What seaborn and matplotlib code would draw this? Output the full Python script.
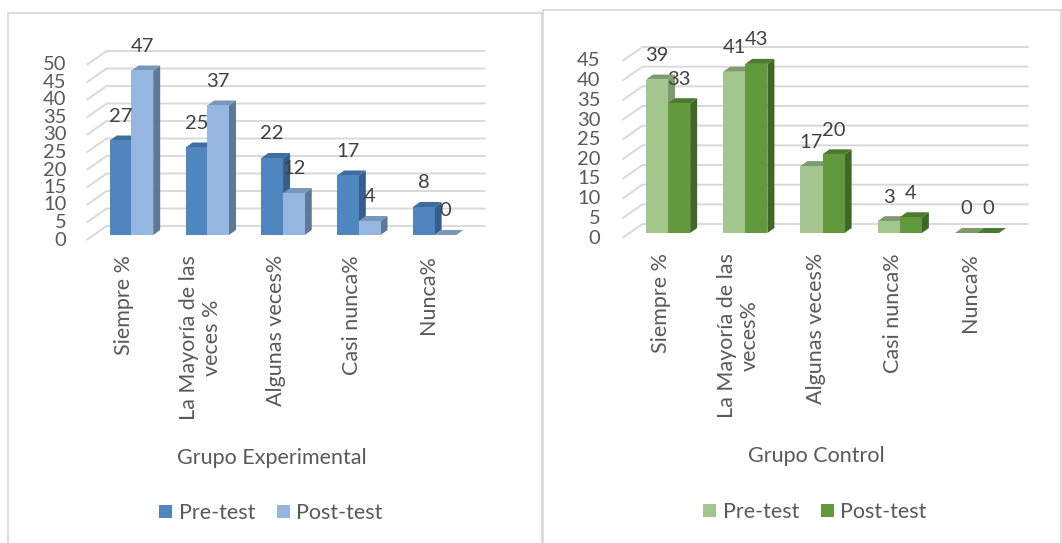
import numpy as np
import pandas as pd
import matplotlib
matplotlib.use("Agg")
import matplotlib.pyplot as plt
import seaborn as sns
from matplotlib.patches import Polygon, Rectangle
from matplotlib.transforms import ScaledTranslation

# ---------------- data ----------------
series = ["Pre-test", "Post-test"]
categories_exp = ["Siempre %", "La Mayoría de las\nveces %", "Algunas veces%", "Casi nunca%", "Nunca%"]
categories_ctl = ["Siempre %", "La Mayoría de las\nveces%", "Algunas veces%", "Casi nunca%", "Nunca%"]
exp_pre = [27, 25, 22, 17, 8]
exp_post = [47, 37, 12, 4, 0]
ctl_pre = [39, 41, 17, 3, 0]
ctl_post = [33, 43, 20, 4, 0]
exp_ticks = [0, 5, 10, 15, 20, 25, 30, 35, 40, 45, 50]
ctl_ticks = [0, 5, 10, 15, 20, 25, 30, 35, 40, 45]
title_exp = "Grupo Experimental"
title_ctl = "Grupo Control"

# ---------------- style ----------------
sns.set_style("white")
plt.rcParams["font.family"] = ["Lato", "DejaVu Sans"]

W, H = 1062, 543
fig = plt.figure(figsize=(W / 100, H / 100), dpi=100)

NUM_SIZE = 14.5
CAT_SIZE = 15.5
TXT = "#595959"
NUMC = "#404040"
GRID = "#D9D9D9"


def px_axes(left, right, top, bottom):
    return fig.add_axes([left / W, 1 - bottom / H, (right - left) / W, (bottom - top) / H])


def draw_panel(ax, cats, pre, post, ticks, front, side, topc, ypx_bottom, ypx_top,
               xl, xr, tick_gap):
    n = len(cats)
    df = pd.DataFrame({
        "Categoría": cats * 2,
        "Valor": pre + post,
        "Serie": [series[0]] * n + [series[1]] * n,
    })
    sns.barplot(data=df, x="Categoría", y="Valor", hue="Serie", order=cats,
                hue_order=series, palette=front, width=0.573, saturation=1,
                errorbar=None, legend=False, linewidth=0, ax=ax)
    ymax = ticks[-1]
    ax.set_xlim(-0.5, n - 0.5)
    ax.set_ylim(0, ymax)
    sx = (xr - xl) / n
    sy = (ypx_bottom - ypx_top) / ymax
    ddx, ddy = 7 / sx, 5 / sy

    # back wall grid with diagonal floor lines
    for t in ticks:
        ax.plot([-0.5 - 7 / sx, -0.5 + 13 / sx, n - 0.5 + 13 / sx],
                [t - 5 / sy, t + 9 / sy, t + 9 / sy],
                color=GRID, lw=1.4, clip_on=False, zorder=1, solid_capstyle="butt")
        ax.text(-0.5 - 7 / sx - tick_gap / sx, t - 5 / sy, str(t), ha="right", va="center",
                fontsize=NUM_SIZE, color=TXT, clip_on=False)

    # 3D faces of the bars
    bars = list(ax.patches)
    for i, p in enumerate(bars):
        k = 0 if i < n else 1
        x0, w, h = p.get_x(), p.get_width(), p.get_height()
        base_z = 2 + 2 * k
        side_poly = Polygon([(x0 + w, 0), (x0 + w + ddx, ddy), (x0 + w + ddx, h + ddy), (x0 + w, h)],
                            closed=True, facecolor=side[k], edgecolor="none", zorder=base_z,
                            clip_on=False)
        top_poly = Polygon([(x0, h), (x0 + w, h), (x0 + w + ddx, h + ddy), (x0 + ddx, h + ddy)],
                           closed=True, facecolor=topc[k], edgecolor="none", zorder=base_z,
                           clip_on=False)
        ax.add_patch(side_poly)
        ax.add_patch(top_poly)
        p.set_zorder(base_z + 1)
        p.set_clip_on(False)
        val = (pre + post)[i]
        ax.text(x0 + w / 2, h + 24 / sy, str(val), ha="center", va="center",
                fontsize=NUM_SIZE, color=NUMC, zorder=10, clip_on=False)

    for s in ax.spines.values():
        s.set_visible(False)
    ax.set_yticks([])
    ax.set_xlabel("")
    ax.set_ylabel("")
    ax.set_xticks(range(n))
    ax.set_xticklabels(cats, rotation=90, fontsize=CAT_SIZE, color=TXT, multialignment="center")
    ax.tick_params(axis="x", length=0, pad=14.4)
    for lbl in ax.get_xticklabels():
        lbl.set_transform(lbl.get_transform() + ScaledTranslation(-7 / 100, 0, fig.dpi_scale_trans))
    ax.patch.set_visible(False)


# ---------------- panels ----------------
blue_front = ["#4F86BF", "#95B6DE"]
blue_side = ["#365E8C", "#5F7898"]
blue_top = ["#3D6EA0", "#7A96BC"]
green_front = ["#A3C68F", "#62993D"]
green_side = ["#7D9B6D", "#3F6826"]
green_top = ["#7D9B6D", "#4C7A30"]

ax1 = px_axes(93.6, 472.5, 60, 235)
draw_panel(ax1, categories_exp, exp_pre, exp_post, exp_ticks, blue_front, blue_side, blue_top,
           235, 60, 93.6, 472.5, 20)
ax2 = px_axes(629.4, 1015.6, 56, 233)
draw_panel(ax2, categories_ctl, ctl_pre, ctl_post, ctl_ticks, green_front, green_side, green_top,
           233, 56, 629.4, 1015.6, 22)

# panel frames
fig.patches.append(Rectangle((8 / W, -0.01), (542 - 8) / W, 1.01 - 13 / H, transform=fig.transFigure,
                             fill=False, edgecolor=GRID, lw=1.3, zorder=0))
fig.patches.append(Rectangle((543 / W, -0.01), (1061 - 543) / W, 1.01 - 10 / H, transform=fig.transFigure,
                             fill=False, edgecolor=GRID, lw=1.3, zorder=0))

# axis titles
fig.text(272 / W, 1 - 458 / H, title_exp, ha="center", va="center", fontsize=CAT_SIZE, color=TXT)
fig.text(816 / W, 1 - 456 / H, title_ctl, ha="center", va="center", fontsize=CAT_SIZE, color=TXT)

# legends
for cols, cx, cy in [(blue_front, 271, 513), (green_front, 815, 512)]:
    handles = [Rectangle((0, 0), 1, 1, facecolor=c, edgecolor="none") for c in cols]
    fig.legend(handles, series, loc="center", bbox_to_anchor=(cx / W, 1 - cy / H),
               ncol=2, frameon=False, fontsize=CAT_SIZE, handlelength=0.6, handleheight=0.6,
               handletextpad=0.3, columnspacing=1.0, labelcolor=TXT)

fig.savefig("out.png", dpi=100)
